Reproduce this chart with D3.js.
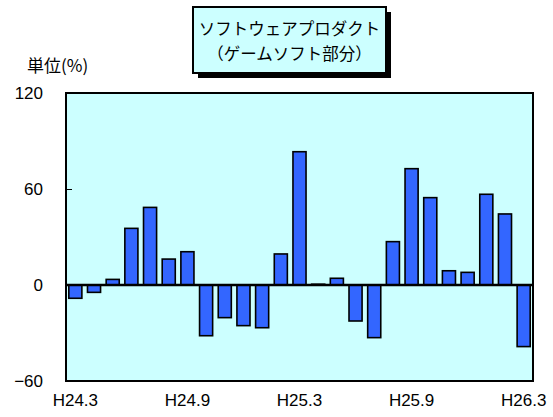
<!DOCTYPE html>
<meta charset="UTF-8">
<script src="https://cdnjs.cloudflare.com/ajax/libs/d3/7.4.4/d3.min.js"></script>
<style>
    body { margin: 0; background: #fff; }
</style>
<svg id="chart" width="553" height="417"></svg>
<script>
    // months H24.3 .. H26.3
    let months = ["H24.3", "H24.4", "H24.5", "H24.6", "H24.7", "H24.8", "H24.9", "H24.10", "H24.11", "H24.12",
        "H25.1", "H25.2", "H25.3", "H25.4", "H25.5", "H25.6", "H25.7", "H25.8", "H25.9", "H25.10",
        "H25.11", "H25.12", "H26.1", "H26.2", "H26.3"];
    let values = [-8.3, -4.6, 3.5, 35.4, 48.5, 16.2, 20.8, -31.7, -20.4, -25.4,
        -26.7, 19.4, 83.3, 0.5, 4.2, -22.5, -32.9, 27.1, 72.7, 54.6,
        8.9, 7.9, 56.7, 44.4, -38.5];
    let yTicks = [120, 60, 0, -60];
    let xLabels = ["H24.3", "H24.9", "H25.3", "H25.9", "H26.3"];
    let titleLines = ["ソフトウェアプロダクト", "（ゲームソフト部分）"];

    let svg = d3.select("svg");
    let pLeft = 66, pRight = 533, pTop = 93, pBottom = 381;
    let jp = "'Noto Sans CJK JP', sans-serif";
    let num = "'Liberation Sans', Arial, sans-serif";

    let x = d3.scaleBand().domain(months).range([pLeft, pRight]).paddingInner(0.3).paddingOuter(0.15);
    let y = d3.scaleLinear().domain([-60, 120]).range([pBottom, pTop]);

    // plot area
    svg.append("rect")
        .attr("x", pLeft).attr("y", pTop)
        .attr("width", pRight - pLeft).attr("height", pBottom - pTop)
        .style("fill", "#ccffff");

    // bars
    svg.append("g").selectAll("rect")
        .data(values)
        .enter().append("rect")
        .attr("x", (d, i) => x(months[i]))
        .attr("width", x.bandwidth())
        .attr("y", d => y(Math.max(0, d)))
        .attr("height", d => Math.abs(y(d) - y(0)))
        .style("fill", "#3366ff")
        .style("stroke", "#000")
        .style("stroke-width", 1.6);

    // zero line
    svg.append("line")
        .attr("x1", pLeft).attr("x2", pRight)
        .attr("y1", y(0)).attr("y2", y(0))
        .style("stroke", "#000").style("stroke-width", 2.5);

    // frame
    svg.append("rect")
        .attr("x", pLeft).attr("y", pTop)
        .attr("width", pRight - pLeft).attr("height", pBottom - pTop)
        .style("fill", "none").style("stroke", "#000").style("stroke-width", 2);

    // y axis ticks + labels
    let yAxis = d3.axisLeft(y).tickValues(yTicks).tickSize(-6).tickPadding(23)
        .tickFormat(d => d < 0 ? "\u2212" + Math.abs(d) : d);
    let ya = svg.append("g").attr("transform", "translate(" + pLeft + ",0)").call(yAxis);
    ya.select(".domain").remove();
    ya.selectAll("line").style("stroke", "#000");
    ya.selectAll("text").style("font-family", num).style("font-size", "17px").style("fill", "#000");

    // x labels
    let xAxis = d3.axisBottom(x).tickValues(xLabels).tickSize(0).tickPadding(13);
    let xa = svg.append("g").attr("transform", "translate(0," + pBottom + ")").call(xAxis);
    xa.select(".domain").remove();
    xa.selectAll("text").style("font-family", num).style("font-size", "17px").style("fill", "#000");

    // unit
    svg.append("text")
        .attr("x", 27).attr("y", 72)
        .style("font-family", jp).style("font-size", "17px")
        .text("単位(%)");

    // title box with shadow
    let bx = 193, by = 7, bw = 193, bh = 66;
    svg.append("rect")
        .attr("x", bx + 5).attr("y", by + 5).attr("width", bw).attr("height", bh)
        .style("fill", "#000");
    svg.append("rect")
        .attr("x", bx).attr("y", by).attr("width", bw).attr("height", bh)
        .style("fill", "#ccffff").style("stroke", "#000").style("stroke-width", 2);
    svg.append("g").selectAll("text")
        .data(titleLines)
        .enter().append("text")
        .attr("x", bx + bw / 2)
        .attr("y", (d, i) => by + 28 + i * 25)
        .style("font-family", jp).style("font-size", "16.5px")
        .style("text-anchor", "middle")
        .text(d => d);
</script>
